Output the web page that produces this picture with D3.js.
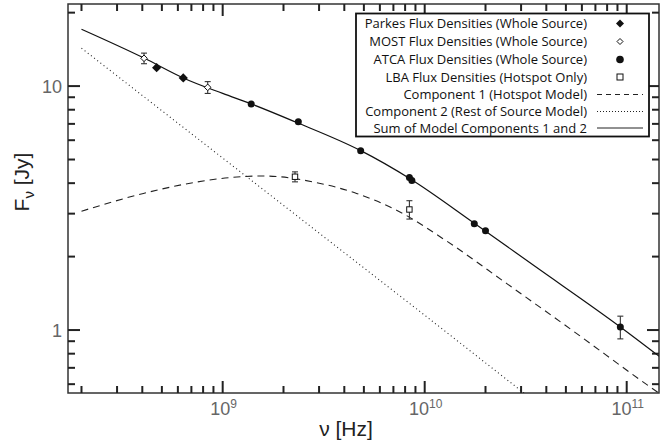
<!DOCTYPE html>
<html>
<head>
<meta charset="utf-8">
<script src="https://cdn.jsdelivr.net/npm/d3@7/dist/d3.min.js"></script>
<style>
  html, body { margin: 0; padding: 0; background: #fff; }
  svg { display: block; font-family: "Liberation Sans", Arial, sans-serif; }
  .legend text { font-family: "Open Sans", "Noto Sans", sans-serif; }
</style>
</head>
<body>
<div id="chart"></div>
<script>
// observed flux densities
const parkesFreq = [4.71e8, 6.38e8];
const parkesFlux = [11.9, 10.8];

const mostFreq = [4.08e8, 8.43e8];
const mostFlux = [13.0, 9.88];
const mostErr = [0.65, 0.55];

const atcaFreq = [1.384e9, 2.368e9, 4.82e9, 8.4e9, 8.64e9, 1.76e10, 2.0e10, 9.3e10];
const atcaFlux = [8.44, 7.14, 5.43, 4.22, 4.10, 2.73, 2.55, 1.03];
const atcaErr = [0, 0, 0, 0, 0, 0, 0, 0.11];

const lbaFreq = [2.28e9, 8.4e9];
const lbaFlux = [4.25, 3.12];
const lbaErr = [0.2, 0.27];

// model curves
const comp1Freq = [2.0e8, 4.05e8, 7.15e8, 1.13e9, 1.59e9, 2.92e9, 4.6e9, 7.26e9, 1.28e10, 2.55e10, 5.44e10, 1.3e11, 1.45e11];
const comp1Flux = [3.07, 3.63, 4.02, 4.23, 4.28, 4.02, 3.63, 3.10, 2.32, 1.55, 0.99, 0.586, 0.55];

const comp2Freq = [2.0e8, 1.0e9, 1.0e10, 3.3e10];
const comp2Flux = [14.3, 5.07, 1.15, 0.53];

const sumFreq = [2.0e8, 4.1e8, 6.38e8, 1.0e9, 1.39e9, 2.28e9, 4.8e9, 8.5e9, 1.76e10, 3.5e10, 9.3e10, 1.45e11];
const sumFlux = [17.1, 13.0, 10.8, 9.33, 8.44, 7.14, 5.45, 4.16, 2.74, 1.83, 1.03, 0.78];

const xMajor = [1e9, 1e10, 1e11];
const xMajorExp = ["9", "10", "11"];
const yMajor = [1, 10];
const yMajorLabels = ["1", "10"];

const legendLabels = [
  "Parkes Flux Densities (Whole Source)",
  "MOST Flux Densities (Whole Source)",
  "ATCA Flux Densities (Whole Source)",
  "LBA Flux Densities (Hotspot Only)",
  "Component 1 (Hotspot Model)",
  "Component 2  (Rest of Source Model)",
  "Sum of Model Components 1 and 2"
];

const W = 660, H = 447;
const pLeft = 68, pRight = 659, pTop = 4, pBottom = 393;

const svg = d3.select("#chart").append("svg")
  .attr("width", W)
  .attr("height", H);

const x = d3.scaleLog().domain([1.715e8, 1.445e11]).range([pLeft, pRight]);
const y = d3.scaleLog().domain([0.552, 21.7]).range([pBottom, pTop]);

// minor tick values
const xMinor = [];
for (let e = 8; e <= 11; e++) {
  for (let m = 2; m <= 9; m++) {
    const v = m * Math.pow(10, e);
    if (v > x.domain()[0] && v < x.domain()[1]) xMinor.push(v);
  }
}
const yMinor = [];
for (let e = -1; e <= 1; e++) {
  for (let m = 2; m <= 9; m++) {
    const v = m * Math.pow(10, e);
    if (v > y.domain()[0] && v < y.domain()[1]) yMinor.push(v);
  }
}

const axisColor = "#333";

// frame
svg.append("rect")
  .attr("x", pLeft).attr("y", pTop)
  .attr("width", pRight - pLeft).attr("height", pBottom - pTop)
  .attr("fill", "none")
  .attr("stroke", axisColor)
  .attr("stroke-width", 1.5);

// tick marks, drawn on top of the frame
const tg = svg.append("g").attr("stroke", "#222").attr("stroke-width", 2);

function xTicks(vals, len) {
  tg.selectAll(null).data(vals).enter().append("line")
    .attr("x1", d => x(d)).attr("x2", d => x(d))
    .attr("y1", pBottom).attr("y2", pBottom - len);
  tg.selectAll(null).data(vals).enter().append("line")
    .attr("x1", d => x(d)).attr("x2", d => x(d))
    .attr("y1", pTop).attr("y2", pTop + len);
}
function yTicks(vals, len) {
  tg.selectAll(null).data(vals).enter().append("line")
    .attr("y1", d => y(d)).attr("y2", d => y(d))
    .attr("x1", pLeft).attr("x2", pLeft + len);
  tg.selectAll(null).data(vals).enter().append("line")
    .attr("y1", d => y(d)).attr("y2", d => y(d))
    .attr("x1", pRight).attr("x2", pRight - len);
}
xTicks(xMajor, 12);
xTicks(xMinor, 7);
yTicks(yMajor, 12);
yTicks(yMinor, 7);

// tick labels
const xLab = svg.append("g").selectAll("text")
  .data(xMajor)
  .enter().append("text")
  .attr("x", d => x(d) + 1)
  .attr("y", pBottom + 22)
  .attr("text-anchor", "middle")
  .attr("fill", "#666")
  .style("font-size", "18px");
xLab.append("tspan").text("10");
xLab.append("tspan")
  .attr("dy", -7)
  .style("font-size", "12px")
  .text((d, i) => xMajorExp[i]);

svg.append("g").selectAll("text")
  .data(yMajor)
  .enter().append("text")
  .attr("x", pLeft - 6)
  .attr("y", d => y(d) + 7)
  .attr("text-anchor", "end")
  .attr("fill", "#666")
  .style("font-size", "18px")
  .text((d, i) => yMajorLabels[i]);

// axis titles
svg.append("text")
  .attr("x", 346)
  .attr("y", 435.5)
  .attr("text-anchor", "middle")
  .attr("fill", "#222")
  .style("font-size", "21px")
  .text("ν [Hz]");

const yt = svg.append("text")
  .attr("transform", "translate(29,182) rotate(-90)")
  .attr("text-anchor", "middle")
  .attr("fill", "#222")
  .style("font-size", "21px");
yt.append("tspan").text("F");
yt.append("tspan").attr("dy", 5).style("font-size", "15px").text("ν");
yt.append("tspan").attr("dy", -5).text(" [Jy]");

// clip for curves
svg.append("clipPath").attr("id", "plot-clip")
  .append("rect")
  .attr("x", pLeft).attr("y", pTop)
  .attr("width", pRight - pLeft).attr("height", pBottom - pTop);

const plot = svg.append("g").attr("clip-path", "url(#plot-clip)");

const line = d3.line()
  .x(d => x(d[0]))
  .y(d => y(d[1]))
  .curve(d3.curveMonotoneX);

plot.append("path")
  .datum(d3.zip(comp1Freq, comp1Flux))
  .attr("d", line)
  .attr("fill", "none")
  .attr("stroke", "#222")
  .attr("stroke-width", 1.1)
  .attr("stroke-dasharray", "7,5");

plot.append("path")
  .datum(d3.zip(comp2Freq, comp2Flux))
  .attr("d", d3.line().x(d => x(d[0])).y(d => y(d[1])))
  .attr("fill", "none")
  .attr("stroke", "#222")
  .attr("stroke-width", 1.1)
  .attr("stroke-dasharray", "1,3");

plot.append("path")
  .datum(d3.zip(sumFreq, sumFlux))
  .attr("d", line)
  .attr("fill", "none")
  .attr("stroke", "#111")
  .attr("stroke-width", 1.2);

// error bars
function errorBars(freq, flux, err) {
  const data = d3.zip(freq, flux, err).filter(d => d[2] > 0);
  const g = plot.append("g").attr("stroke", "#333").attr("stroke-width", 1.1);
  g.selectAll(".v").data(data).enter().append("line")
    .attr("x1", d => x(d[0])).attr("x2", d => x(d[0]))
    .attr("y1", d => y(d[1] - d[2])).attr("y2", d => y(d[1] + d[2]));
  g.selectAll(".lo").data(data).enter().append("line")
    .attr("x1", d => x(d[0]) - 3).attr("x2", d => x(d[0]) + 3)
    .attr("y1", d => y(d[1] - d[2])).attr("y2", d => y(d[1] - d[2]));
  g.selectAll(".hi").data(data).enter().append("line")
    .attr("x1", d => x(d[0]) - 3).attr("x2", d => x(d[0]) + 3)
    .attr("y1", d => y(d[1] + d[2])).attr("y2", d => y(d[1] + d[2]));
}
errorBars(mostFreq, mostFlux, mostErr);
errorBars(atcaFreq, atcaFlux, atcaErr);
errorBars(lbaFreq, lbaFlux, lbaErr);

// markers
const diamond = r => `M0,${-r}L${r},0L0,${r}L${-r},0Z`;

plot.append("g").selectAll("path")
  .data(d3.zip(parkesFreq, parkesFlux))
  .enter().append("path")
  .attr("transform", d => `translate(${x(d[0])},${y(d[1])})`)
  .attr("d", diamond(4.6))
  .attr("fill", "#111");

plot.append("g").selectAll("path")
  .data(d3.zip(mostFreq, mostFlux))
  .enter().append("path")
  .attr("transform", d => `translate(${x(d[0])},${y(d[1])})`)
  .attr("d", diamond(3.3))
  .attr("fill", "#fff")
  .attr("stroke", "#111")
  .attr("stroke-width", 1);

plot.append("g").selectAll("circle")
  .data(d3.zip(atcaFreq, atcaFlux))
  .enter().append("circle")
  .attr("cx", d => x(d[0]))
  .attr("cy", d => y(d[1]))
  .attr("r", 3.5)
  .attr("fill", "#111");

plot.append("g").selectAll("rect")
  .data(d3.zip(lbaFreq, lbaFlux))
  .enter().append("rect")
  .attr("x", d => x(d[0]) - 2.7)
  .attr("y", d => y(d[1]) - 2.7)
  .attr("width", 5.4)
  .attr("height", 5.4)
  .attr("fill", "#fff")
  .attr("stroke", "#111")
  .attr("stroke-width", 1);

// legend
const lg = svg.append("g").attr("class", "legend");
lg.append("rect")
  .attr("x", 356).attr("y", 13.5)
  .attr("width", 293).attr("height", 123)
  .attr("fill", "#fff")
  .attr("stroke", "#111")
  .attr("stroke-width", 1.8);

const rowY = [23.5, 41.5, 59.5, 77, 94.5, 111.5, 128];
lg.selectAll("text")
  .data(legendLabels)
  .enter().append("text")
  .attr("x", 587)
  .attr("y", (d, i) => rowY[i] + 4.5)
  .attr("text-anchor", "end")
  .attr("fill", "#111")
  .style("font-size", "13px")
  .text(d => d);

const sx = 620;
lg.append("path").attr("transform", `translate(${sx},${rowY[0]})`).attr("d", diamond(4)).attr("fill", "#111");
lg.append("path").attr("transform", `translate(${sx},${rowY[1]})`).attr("d", diamond(3)).attr("fill", "#fff").attr("stroke", "#111");
lg.append("circle").attr("cx", sx).attr("cy", rowY[2]).attr("r", 3.8).attr("fill", "#111");
lg.append("rect").attr("x", sx - 3).attr("y", rowY[3] - 3).attr("width", 6).attr("height", 6).attr("fill", "#fff").attr("stroke", "#111");
lg.append("line").attr("x1", 597).attr("x2", 643).attr("y1", rowY[4]).attr("y2", rowY[4])
  .attr("stroke", "#222").attr("stroke-dasharray", "5,4");
lg.append("line").attr("x1", 597).attr("x2", 643).attr("y1", rowY[5]).attr("y2", rowY[5])
  .attr("stroke", "#222").attr("stroke-dasharray", "1,2");
lg.append("line").attr("x1", 597).attr("x2", 643).attr("y1", rowY[6]).attr("y2", rowY[6])
  .attr("stroke", "#222");
</script>
</body>
</html>
